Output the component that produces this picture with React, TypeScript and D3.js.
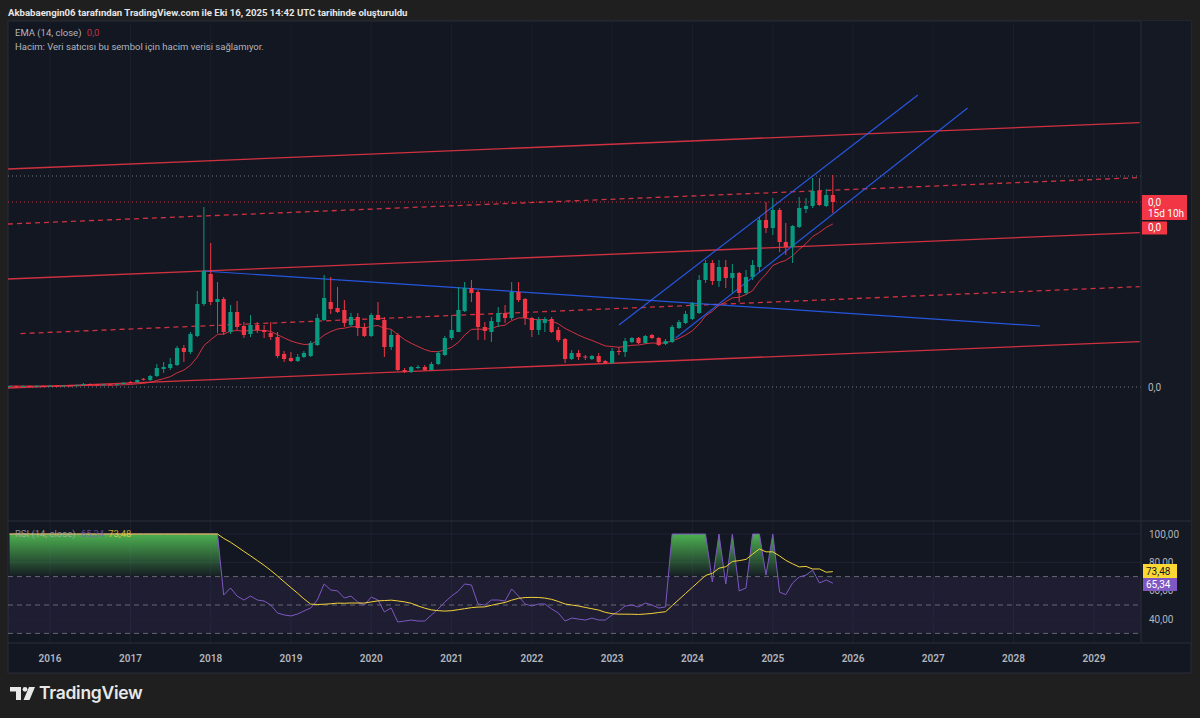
import React from "react";
import * as d3 from "d3";

// monthly candles from Jul 2015 to Oct 2025 (price scale only shows 0,0, so units are relative)
const firstMonth = new Date(2015, 6, 1);
const lastMonthEnd = new Date(2025, 10, 1);

const opens = [
  0.6, 1.0, 0.7, 1.1, 0.8, 1.2,
  0.9, 1.3, 1.1, 1.5, 1.2, 1.8, 3.0, 2.4, 2.0, 2.6, 2.2, 2.8,
  5.0, 4.8, 8.2, 7, 11, 18, 19, 22, 39, 35, 51, 83,
  113, 85, 88, 55, 75, 61, 53, 62, 57, 54, 50, 33,
  29, 26, 30, 31, 42, 67, 85, 79, 77, 62, 70, 60,
  51, 72, 67, 40, 52, 17, 15, 19.5, 20, 17, 23, 32,
  49, 55, 76, 99, 95, 60, 55, 65, 74, 69, 95, 88,
  69, 57, 64, 68, 57, 48, 28, 34, 30.5, 28, 31, 26,
  24, 36, 35, 45, 49, 44, 52, 49, 43, 45, 59, 64,
  68, 74, 107, 124, 106, 120, 109, 114, 94, 110, 120, 167,
  159, 177, 145, 140, 160, 178, 181, 196, 181, 192,
];
const highs = [
  1.4, 1.3, 1.5, 1.4, 1.6, 1.5,
  1.8, 1.7, 2.0, 1.8, 2.3, 4.0, 3.5, 2.8, 3.0, 3.0, 3.3, 4.8,
  5.8, 7.5, 9, 12, 23, 25, 29, 41, 42, 55, 96, 180,
  144, 105, 90, 82, 86, 65, 72, 65, 62, 65, 55, 36,
  35, 33, 36, 46, 73, 112, 110, 100, 87, 74, 74, 64,
  74, 85, 70, 57, 54, 19, 21, 22, 22, 25, 36, 51,
  72, 100, 105, 107, 97, 65, 70, 80, 82, 105, 105, 89,
  70, 70, 70, 70, 60, 49, 37, 37, 32, 32, 34, 27,
  39, 40, 49, 50, 50, 52, 53, 50, 48, 62, 67, 76,
  85, 112, 127, 127, 127, 127, 123, 115, 117, 127, 170, 185,
  189, 179, 164, 162, 190, 189, 209, 209, 198, 212,
];
const lows = [
  0.4, 0.4, 0.5, 0.6, 0.6, 0.7,
  0.7, 0.8, 1.0, 1.0, 1.1, 1.6, 2.0, 1.6, 1.8, 1.9, 2.0, 2.6,
  3.8, 4.4, 6.5, 6, 10, 14, 17, 21, 25, 33, 50, 81,
  82, 54, 52, 53, 57, 49, 50, 54, 49, 47, 29, 25,
  25, 25, 29, 30, 41, 66, 73, 74, 60, 60, 51, 50,
  50, 67, 30, 37, 16, 14, 14, 18, 16, 16, 22, 31,
  47, 55, 75, 85, 47, 47, 45, 60, 64, 67, 85, 62,
  50, 52, 55, 54, 45, 24, 27, 27, 27, 27, 24, 23,
  23, 32, 30, 44, 43, 43, 48, 41, 42, 44, 58, 63,
  67, 73, 104, 102, 100, 99, 94, 85, 92, 107, 115, 154,
  152, 135, 132, 124, 159, 174, 179, 181, 180, 174,
];
const closes = [
  1.0, 0.7, 1.1, 0.8, 1.2, 0.9,
  1.3, 1.1, 1.5, 1.2, 1.8, 3.0, 2.4, 2.0, 2.6, 2.2, 2.8, 4.2,
  4.4, 7.0, 7.2, 11, 19, 20, 23, 39, 35, 53, 83, 116,
  85, 88, 55, 75, 60, 52, 62, 57, 55, 50, 31, 28,
  26, 30, 34, 44, 69, 89, 78, 75, 64, 70, 59, 51,
  72, 67, 40, 52, 17, 15, 20, 20, 17, 23, 34, 49,
  57, 77, 99, 94, 60, 56, 66, 74, 69, 95, 87, 69,
  57, 67, 68, 55, 47, 28, 34, 30, 30, 31, 25, 24,
  36, 35.5, 46, 49, 44, 51, 49, 42, 46, 60, 65, 73,
  84, 107, 124, 106, 120, 109, 114, 94, 110, 122, 167, 159,
  177, 145, 140, 161, 179, 181, 196, 182, 192, 185,
];

// RSI (14, close), same months
const rsiValues = [
  100, 100, 100, 100, 100, 100,
  100, 100, 100, 100, 100, 100, 100, 100, 100, 100, 100, 100,
  100, 100, 100, 100, 100, 100, 100, 100, 100, 100, 100, 100,
  100, 100, 57.0, 62.0, 56.3, 53.5, 56.3, 53.5, 52.8, 50.0, 44.4, 43.0,
  42.3, 43.7, 45.8, 47.9, 53.5, 64.8, 60.6, 59.9, 54.9, 56.3, 52.1, 50.0,
  55.6, 53.5, 45.1, 47.9, 38.0, 38.7, 39.4, 38.7, 38.7, 43.0, 47.2, 52.1,
  56.3, 59.9, 64.8, 64.1, 50.7, 50.0, 53.5, 53.5, 52.8, 61.3, 56.3, 50.7,
  49.3, 50.7, 50.7, 47.2, 44.4, 38.7, 40.8, 40.1, 39.4, 40.8, 39.4, 39.4,
  43.0, 45.8, 49.3, 50.0, 48.6, 51.4, 50.0, 47.9, 48.6, 100, 100, 100,
  100, 100, 100, 66.2, 100, 64.8, 100, 59.9, 62.0, 100, 100, 71.1,
  100, 59.0, 57.3, 65.5, 69.7, 71.1, 74.6, 65.5, 67.6, 65.34,
];

const yearLabels = ["2016", "2017", "2018", "2019", "2020", "2021", "2022", "2023", "2024", "2025", "2026", "2027", "2028", "2029"];
const rsiTicks = [100, 80, 60, 40];
const rsiBands = [70, 50, 30];

// drawings: [date, price] pairs
const channelLines = [
  { from: ["2015-06-24", 218], to: ["2029-07-28", 264.4], dashed: false },
  { from: ["2015-06-24", 163], to: ["2029-07-28", 209.4], dashed: true },
  { from: ["2015-06-24", 108], to: ["2029-07-28", 154.4], dashed: false },
  { from: ["2015-08-20", 53.4], to: ["2029-07-28", 100.4], dashed: true },
  { from: ["2015-06-24", -1], to: ["2029-07-28", 45.4], dashed: false },
];
const blueLines = [
  { from: ["2017-11-27", 116], to: ["2028-05-01", 61] },
  { from: ["2023-02-01", 62], to: ["2026-10-23", 292] },
  { from: ["2023-10-17", 49], to: ["2027-06-06", 279] },
];
const topDottedPrice = 211;
const zeroPrice = 0;

const UP = "#089981";
const DOWN = "#F23645";
const FONT = "Roboto, 'Noto Sans', sans-serif";

function ema(src: number[], len: number) {
  const a = 2 / (len + 1);
  const out: number[] = [];
  src.forEach((v, i) => out.push(i === 0 ? v : a * v + (1 - a) * out[i - 1]));
  return out;
}

export default function App() {
  const W = 1200;
  const H = 718;
  const left = 8;
  const right = 1191;
  const top = 21;
  const plotRight = 1141;
  const mainBottom = 521;
  const rsiBottom = 643;
  const bottom = 673;

  const months = d3.timeMonth.range(firstMonth, lastMonthEnd);
  const x = d3
    .scaleTime()
    .domain([new Date(2016, 0, 1), new Date(2029, 0, 1)])
    .range([50, 1094]);
  const y = d3.scaleLinear().domain([0, 211]).range([387, 176]);
  const yR = d3.scaleLinear().domain([40, 100]).range([619.2, 534]);

  const emaValues = ema(closes, 14);
  const rsiMa = rsiValues.map((_, i) => d3.mean(rsiValues.slice(Math.max(0, i - 13), i + 1)) as number);

  const emaLine = d3
    .line<number>()
    .x((_, i) => x(months[i]))
    .y((d) => y(d));
  const rsiLine = d3
    .line<number>()
    .x((_, i) => x(months[i]))
    .y((d) => yR(d));
  const rsiFill = d3
    .area<number>()
    .x((_, i) => x(months[i]))
    .y0(yR(70))
    .y1((d) => yR(d));

  const pd = (s: string) => d3.timeParse("%Y-%m-%d")(s) as Date;
  const bw = 4.2;
  const lastClose = closes[closes.length - 1];
  const lastEma = emaValues[emaValues.length - 1];
  const tag1Y = y(lastClose);
  const tag2Y = Math.max(y(lastEma), tag1Y + 25.5);
  const rsiLast = rsiValues[rsiValues.length - 1];
  const maLast = rsiMa[rsiMa.length - 1];
  const fmt = (v: number) => v.toFixed(2).replace(".", ",");

  return (
    <svg width={W} height={H} style={{ position: "absolute", left: 0, top: 0, fontFamily: FONT }}>
      <defs>
        <clipPath id="mainClip">
          <rect x={left} y={top} width={plotRight - left} height={mainBottom - top} />
        </clipPath>
        <clipPath id="rsiClip">
          <rect x={left} y={mainBottom} width={plotRight - left} height={rsiBottom - mainBottom} />
        </clipPath>
        <clipPath id="obClip">
          <rect x={left} y={mainBottom} width={plotRight - left} height={yR(70) - mainBottom} />
        </clipPath>
        <linearGradient id="obGrad" gradientUnits="userSpaceOnUse" x1="0" x2="0" y1={yR(100)} y2={yR(70)}>
          <stop offset="0" stopColor="#4caf50" stopOpacity={1} />
          <stop offset="1" stopColor="#4caf50" stopOpacity={0.04} />
        </linearGradient>
      </defs>

      <rect x={0} y={0} width={W} height={H} fill="#1f1f1f" />
      <text x={8} y={16} fill="#e6e6e6" fontSize={9.6} fontWeight={700}>
        Akbabaengin06 tarafından TradingView.com ile Eki 16, 2025 14:42 UTC tarihinde oluşturuldu
      </text>

      <rect x={left} y={top} width={right - left} height={bottom - top} fill="#131722" stroke="#2a2e39" />
      <rect x={plotRight} y={top} width={right - plotRight} height={rsiBottom - top} fill="#151924" />

      {/* vertical grid */}
      {yearLabels.map((yr) => {
        const gx = x(new Date(+yr, 0, 1));
        return (
          <g key={yr}>
            <line x1={gx} x2={gx} y1={top} y2={mainBottom} stroke="#1b1f2b" />
            <line x1={gx} x2={gx} y1={mainBottom} y2={rsiBottom} stroke="#1d2130" />
          </g>
        );
      })}

      {/* main pane */}
      <g clipPath="url(#mainClip)">
        <line x1={left} x2={plotRight} y1={y(topDottedPrice)} y2={y(topDottedPrice)} stroke="#787b86" strokeDasharray="1 3" />
        <line x1={left} x2={plotRight} y1={y(zeroPrice)} y2={y(zeroPrice)} stroke="#787b86" strokeDasharray="1 3" />
        <line x1={left} x2={plotRight} y1={tag1Y} y2={tag1Y} stroke={DOWN} strokeOpacity={0.8} strokeDasharray="1 3" />

        {channelLines.map((l, i) => (
          <line
            key={i}
            x1={x(pd(l.from[0] as string))}
            y1={y(l.from[1] as number)}
            x2={x(pd(l.to[0] as string))}
            y2={y(l.to[1] as number)}
            stroke={DOWN}
            strokeOpacity={0.85}
            strokeWidth={1.3}
            strokeDasharray={l.dashed ? "5 4" : undefined}
          />
        ))}
        {blueLines.map((l, i) => (
          <line
            key={i}
            x1={x(pd(l.from[0] as string))}
            y1={y(l.from[1] as number)}
            x2={x(pd(l.to[0] as string))}
            y2={y(l.to[1] as number)}
            stroke="#2962FF"
            strokeOpacity={0.85}
            strokeWidth={1.2}
          />
        ))}

        <path d={emaLine(emaValues) || ""} fill="none" stroke={DOWN} strokeOpacity={0.85} strokeWidth={1} />

        {months.map((m, i) => {
          const o = opens[i];
          const c = closes[i];
          const col = c >= o ? UP : DOWN;
          const cx = x(m);
          const yt = y(Math.max(o, c));
          const yb = y(Math.min(o, c));
          return (
            <g key={i}>
              <line x1={cx} x2={cx} y1={y(highs[i])} y2={y(lows[i])} stroke={col} strokeWidth={1} />
              <rect x={cx - bw / 2} y={yt} width={bw} height={Math.max(1, yb - yt)} fill={col} />
            </g>
          );
        })}
      </g>

      <text x={15} y={36} fontSize={9.5} fill="#b2b5be">
        EMA (14, close) <tspan fill={DOWN} fillOpacity={0.8} dx={3}>0,0</tspan>
      </text>
      <text x={15} y={50} fontSize={9.5} fill="#b2b5be">
        Hacim: Veri satıcısı bu sembol için hacim verisi sağlamıyor.
      </text>

      {/* RSI pane */}
      <rect x={left} y={yR(70)} width={plotRight - left} height={yR(30) - yR(70)} fill="#7E57C2" fillOpacity={0.1} />
      {rsiTicks.map((t) => (
        <line key={t} x1={left} x2={plotRight} y1={yR(t)} y2={yR(t)} stroke="#1f2332" />
      ))}
      {rsiBands.map((b) => (
        <line key={b} x1={left} x2={plotRight} y1={yR(b)} y2={yR(b)} stroke="#787b86" strokeOpacity={0.8} strokeDasharray="5 4" />
      ))}
      <g clipPath="url(#rsiClip)">
        <path d={rsiFill(rsiValues) || ""} fill="url(#obGrad)" clipPath="url(#obClip)" />
        <path d={rsiLine(rsiValues) || ""} fill="none" stroke="#7E57C2" strokeWidth={1} />
        <path d={rsiLine(rsiMa) || ""} fill="none" stroke="#F5D33A" strokeWidth={1} />
      </g>
      <text x={15} y={537} fontSize={9.5} fill="#b2b5be" fillOpacity={0.75}>
        RSI (14, close) <tspan fill="#7E57C2" dx={3}>{fmt(rsiLast)}</tspan>
        <tspan fill="#FDD835" dx={4}>{fmt(maLast)}</tspan>
      </text>

      {/* separators */}
      <line x1={left} x2={right} y1={mainBottom} y2={mainBottom} stroke="#2a2e39" />
      <line x1={left} x2={right} y1={rsiBottom} y2={rsiBottom} stroke="#2a2e39" />
      <line x1={plotRight} x2={plotRight} y1={top} y2={rsiBottom} stroke="#2a2e39" />

      {/* price axis */}
      <text x={1148} y={y(zeroPrice) + 3.5} fontSize={10} fill="#b2b5be">0,0</text>
      <rect x={plotRight + 1} y={tag1Y - 7} width={45} height={25} fill={DOWN} />
      <text x={1148} y={tag1Y + 3.5} fontSize={10} fill="#ffffff">0,0</text>
      <text x={1148} y={tag1Y + 15} fontSize={10} fill="#ffffff">15d 10h</text>
      <rect x={plotRight + 1} y={tag2Y - 6} width={25} height={13} fill={DOWN} />
      <text x={1148} y={tag2Y + 3.5} fontSize={10} fill="#ffffff">0,0</text>

      {rsiTicks.map((t) => (
        <text key={t} x={1149} y={yR(t) + 3.5} fontSize={10} fill="#b2b5be">{fmt(t)}</text>
      ))}
      <rect x={plotRight + 2} y={564} width={34} height={14} fill="#FDD835" />
      <text x={1146} y={574.5} fontSize={10} fill="#131722">{fmt(maLast)}</text>
      <rect x={plotRight + 2} y={578} width={34} height={13} fill="#7E57C2" />
      <text x={1146} y={588} fontSize={10} fill="#ffffff">{fmt(rsiLast)}</text>

      {/* time axis */}
      {yearLabels.map((yr) => (
        <text key={yr} x={x(new Date(+yr, 0, 1))} y={662} fontSize={10} fontWeight={600} fill="#b2b5be" textAnchor="middle">
          {yr}
        </text>
      ))}

      {/* logo */}
      <g fill="#e8e8e8">
        <path d="M10 687h11v13h-5v-8.5h-6z" />
        <circle cx={25} cy={689.3} r={2.4} />
        <path d="M29 687h6l-5.5 13h-6z" />
      </g>
      <text x={39} y={699} fontSize={17.5} fontWeight={600} fill="#e8e8e8" fontFamily="Inter, Roboto, sans-serif" letterSpacing={-0.3}>
        TradingView
      </text>
    </svg>
  );
}
